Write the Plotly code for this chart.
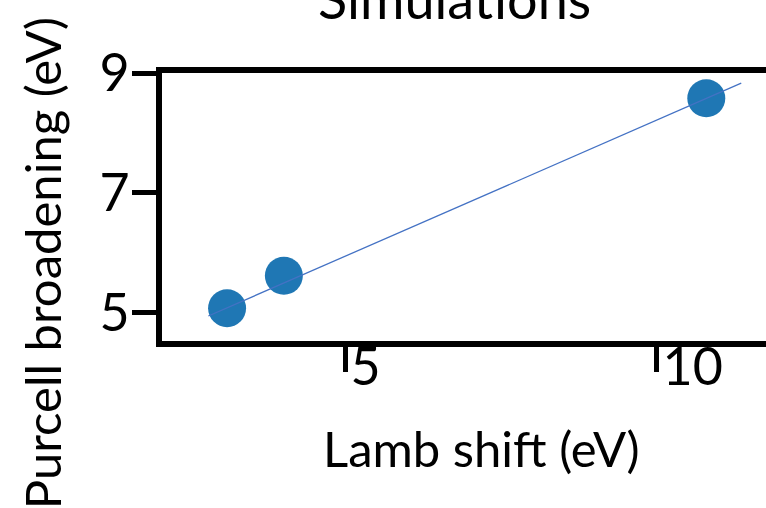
import plotly.graph_objects as go

# data
lamb_shift = [3.11, 4.02, 10.79]
purcell = [5.08, 5.62, 8.58]
fit_x = [2.81, 11.35]
fit_y = [4.95, 8.83]
x_ticks = [5, 10]
y_ticks = [5, 7, 9]

FONT = "Lato"

fig = go.Figure()
fig.add_trace(go.Scatter(x=lamb_shift, y=purcell, mode="markers",
                         marker=dict(size=38, color="#1f77b4"), showlegend=False))
fig.add_trace(go.Scatter(x=fit_x, y=fit_y, mode="lines",
                         line=dict(color="#4472c4", width=1.3), showlegend=False))

fig.update_layout(
    width=766, height=508,
    margin=dict(l=162, r=0, t=73, b=167),
    plot_bgcolor="white", paper_bgcolor="white",
    font=dict(family=FONT, color="black"),
    xaxis=dict(range=[2.067, 11.747], tickvals=x_ticks, ticktext=[str(v) for v in x_ticks],
               showline=True, linewidth=6, linecolor="black", mirror=True,
               ticks="outside", ticklen=25, tickwidth=5, tickcolor="black",
               ticklabelposition="outside right", ticklabelstandoff=-24,
               tickfont=dict(size=52, family=FONT), showgrid=False, zeroline=False),
    yaxis=dict(range=[4.533, 9.0], tickvals=y_ticks, ticktext=[str(v) for v in y_ticks],
               showline=True, linewidth=6, linecolor="black",
               ticks="outside", ticklen=24, tickwidth=5, tickcolor="black",
               ticklabelstandoff=-8,
               tickfont=dict(size=52, family=FONT), showgrid=False, zeroline=False),
    annotations=[
        dict(text="Lamb shift (eV)", xref="paper", yref="paper", x=0.529, y=0,
             xanchor="center", yanchor="top", yshift=-76, showarrow=False,
             font=dict(size=49, family=FONT)),
        dict(text="Purcell broadening (eV)", xref="paper", yref="paper", x=0, y=0.29,
             xanchor="center", yanchor="middle", xshift=-120, textangle=-90, showarrow=False,
             font=dict(size=49, family=FONT)),
        dict(text="Simulations", xref="paper", yref="paper", x=0.485, y=1,
             xanchor="center", yanchor="bottom", yshift=40, showarrow=False,
             font=dict(size=54, family=FONT)),
    ],
)

fig.write_html("out.html")
